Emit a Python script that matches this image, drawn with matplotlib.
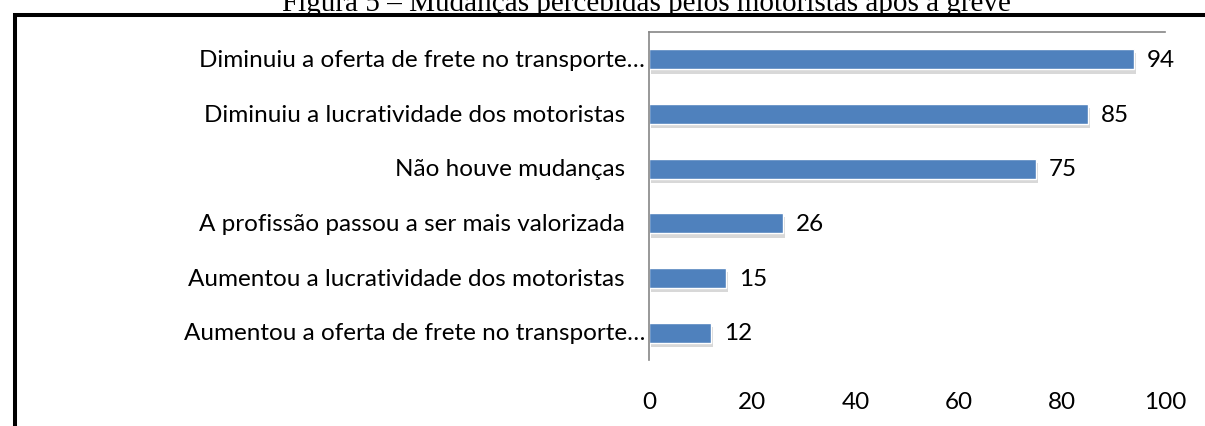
import matplotlib.pyplot as plt
import matplotlib.patheffects as pe
from matplotlib.patches import Rectangle

# data (top to bottom as shown)
categories = [
    "Diminuiu a oferta de frete no transporte…",
    "Diminuiu a lucratividade dos motoristas",
    "Não houve mudanças",
    "A profissão passou a ser mais valorizada",
    "Aumentou a lucratividade dos motoristas",
    "Aumentou a oferta de frete no transporte…",
]
values = [94, 85, 75, 26, 15, 12]
xticks = [0, 20, 40, 60, 80, 100]

TITLE = "Figura 5 – Mudanças percebidas pelos motoristas após a greve"
BAR = "#4F81BD"
SPINE = "#868686"
FONT = "Lato"
FS = 17.5

W, H = 1205, 427
fig = plt.figure(figsize=(W / 100, H / 100), dpi=100)

fig.text(646 / W, 1 - 11 / H, TITLE, ha="center", va="baseline",
         family="Liberation Serif", fontsize=21)
# outer frame (runs off the right and bottom edges)
fig.patches.append(Rectangle((15 / W, -0.2), 1.2, 1 - 15.5 / H + 0.2,
                             transform=fig.transFigure, fill=False,
                             edgecolor="black", lw=2.9))

ax = fig.add_axes([649 / W, 1 - 361 / H, (1165 - 649) / W, (361 - 33) / H])
ypos = list(range(len(categories)))[::-1]
bars = ax.barh(ypos, values, height=0.37, color=BAR, edgecolor="white", lw=1.0)
for b in bars:
    b.set_path_effects([pe.SimplePatchShadow(offset=(1.5, -3), alpha=0.3,
                                             shadow_rgbFace="gray"),
                        pe.Normal()])

ax.set_xlim(0, 100)
ax.set_ylim(-0.5, len(categories) - 0.5)
ax.set_xticks(xticks)
ax.set_xticklabels([str(t) for t in xticks], family=FONT, fontsize=FS)
ax.tick_params(axis="x", length=0, pad=22)
ax.set_yticks([])

for s in ("right", "bottom"):
    ax.spines[s].set_visible(False)
for s in ("top", "left"):
    ax.spines[s].set_color(SPINE)
    ax.spines[s].set_linewidth(1.2)

for y, cat, v in zip(ypos, categories, values):
    off = -4 if cat.endswith("…") else -24
    ax.annotate(cat, xy=(0, y), xycoords=("axes fraction", "data"),
                xytext=(off, 0), textcoords="offset pixels",
                ha="right", va="center", family=FONT, fontsize=FS)
    ax.annotate(str(v), xy=(v, y), xytext=(13, 0), textcoords="offset pixels",
                ha="left", va="center", family=FONT, fontsize=FS)

fig.savefig("out.png", dpi=100)
